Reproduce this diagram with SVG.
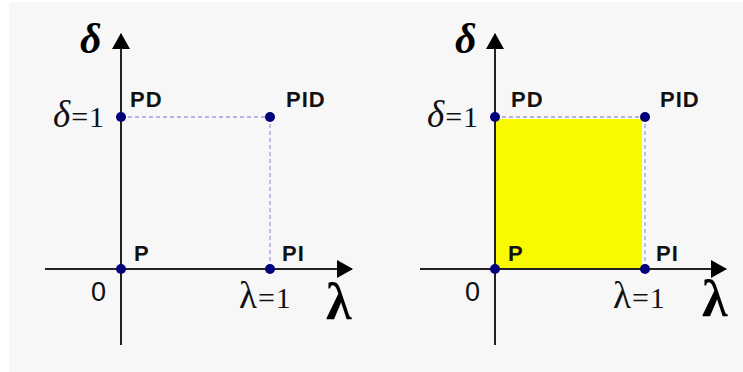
<svg xmlns="http://www.w3.org/2000/svg" width="743" height="372" viewBox="0 0 743 372">
<defs>
<marker id="arr" markerWidth="16" markerHeight="18" refX="15" refY="9" orient="auto" markerUnits="userSpaceOnUse">
<path d="M0,0 L16,9 L0,18 Z" fill="#000"/>
</marker>
</defs>
<style>
.axis{stroke:#222;stroke-width:2;fill:none}
.dash{stroke:#a0a0e0;stroke-width:1.3;stroke-dasharray:4 3;fill:none}
.dot{fill:#00007a}
.lab{font-family:"Liberation Sans",Arial,sans-serif;font-weight:bold;font-size:22px;letter-spacing:1px;fill:#111}
.ser{font-family:"Liberation Serif","Times New Roman",serif;font-size:30px;letter-spacing:1px;fill:#111}
.gr{font-size:37px}
.big{font-family:"Liberation Serif","Times New Roman",serif;font-weight:bold;fill:#000}
.zero{font-family:"Liberation Sans",Arial,sans-serif;font-size:27px;fill:#111}
</style>
<rect x="9" y="2" width="734" height="370" fill="#f7f7f7"/>
<rect x="496" y="119" width="146" height="149" fill="#f9f900"/>
<g id="connectors">
<line class="dash" x1="121" y1="117" x2="270" y2="117"/>
<line class="dash" x1="270" y1="117" x2="270" y2="269"/>
<line class="dash" x1="495" y1="117" x2="645" y2="117"/>
<line class="dash" x1="645" y1="117" x2="645" y2="269"/>
<line class="axis" x1="121" y1="345" x2="121" y2="34" marker-end="url(#arr)"/>
<line class="axis" x1="45" y1="269" x2="352" y2="269" marker-end="url(#arr)"/>
<line class="axis" x1="495" y1="345" x2="495" y2="34" marker-end="url(#arr)"/>
<line class="axis" x1="420" y1="269" x2="726" y2="269" marker-end="url(#arr)"/>
</g>
<g id="left-labels">
<text class="big" x="80" y="53" font-size="42" font-style="italic">δ</text>
<text class="big" x="326" y="319" font-size="52">λ</text>
<text class="ser" x="53" y="127"><tspan class="gr" font-style="italic">δ</tspan>=1</text>
<text class="ser" x="239" y="308"><tspan class="gr">λ</tspan>=1</text>
<text class="zero" x="91" y="301">0</text>
</g>
<g id="right-labels">
<text class="big" x="455" y="53" font-size="42" font-style="italic">δ</text>
<text class="big" x="702" y="316" font-size="52">λ</text>
<text class="ser" x="427" y="127"><tspan class="gr" font-style="italic">δ</tspan>=1</text>
<text class="ser" x="613" y="308"><tspan class="gr">λ</tspan>=1</text>
<text class="zero" x="465" y="301">0</text>
</g>
<g id="node-P-left"><circle class="dot" cx="121" cy="269" r="5"/><text class="lab" x="134" y="261">P</text></g>
<g id="node-PD-left"><circle class="dot" cx="121" cy="117" r="5"/><text class="lab" x="130" y="107">PD</text></g>
<g id="node-PI-left"><circle class="dot" cx="270" cy="269" r="5"/><text class="lab" x="282" y="261">PI</text></g>
<g id="node-PID-left"><circle class="dot" cx="270" cy="117" r="5"/><text class="lab" x="286" y="107">PID</text></g>
<g id="node-P-right"><circle class="dot" cx="495" cy="269" r="5"/><text class="lab" x="508" y="261">P</text></g>
<g id="node-PD-right"><circle class="dot" cx="495" cy="117" r="5"/><text class="lab" x="511" y="107">PD</text></g>
<g id="node-PI-right"><circle class="dot" cx="645" cy="269" r="5"/><text class="lab" x="656" y="261">PI</text></g>
<g id="node-PID-right"><circle class="dot" cx="645" cy="117" r="5"/><text class="lab" x="660" y="107">PID</text></g>
</svg>
